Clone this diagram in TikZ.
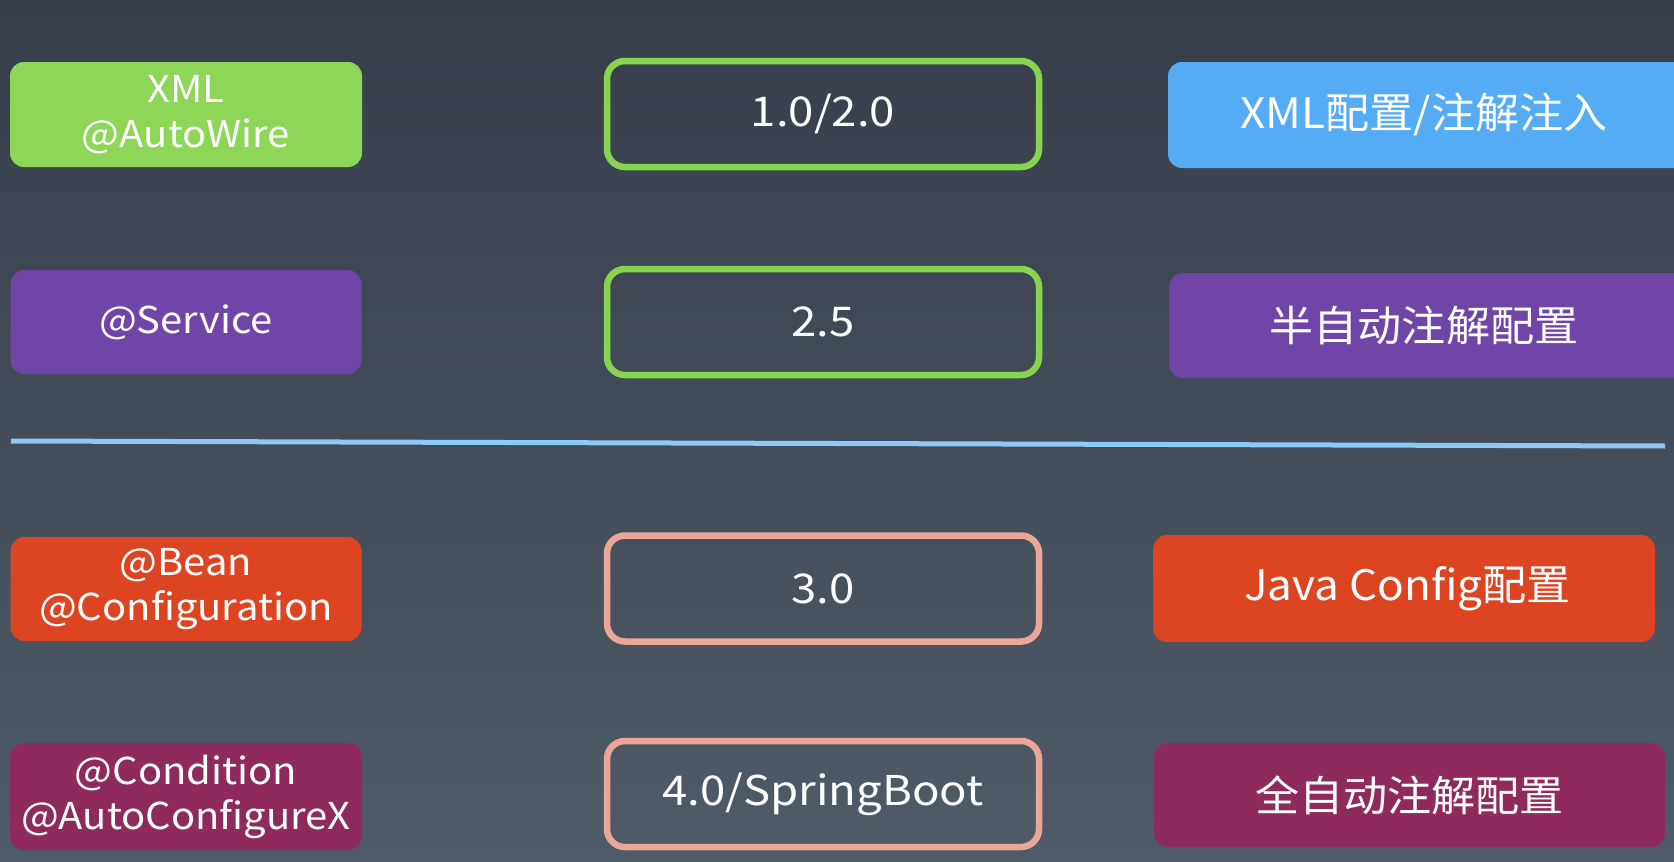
\documentclass[tikz,border=0pt]{standalone}
\usepackage{fontspec}
\setmainfont{Noto Sans CJK SC}
\newfontfamily\fontL[FakeStretch=1.08]{Noto Sans CJK SC}
\newfontfamily\fontC[FakeStretch=1.11]{Noto Sans CJK SC}
\newfontfamily\fontR[FakeStretch=1.05]{Noto Sans CJK SC}
\definecolor{bgtop}{HTML}{363E4A}
\definecolor{bgbot}{HTML}{505B68}
\definecolor{cgreen}{HTML}{8ED657}
\definecolor{cblue}{HTML}{56ABF5}
\definecolor{cpurple}{HTML}{6F45A7}
\definecolor{corange}{HTML}{DD4421}
\definecolor{cmagenta}{HTML}{8F2A5C}
\definecolor{ogreen}{HTML}{86D44F}
\definecolor{opink}{HTML}{EBA698}
\definecolor{cline}{HTML}{8CC8F8}
\tikzset{
  fillbox/.style={rounded corners=14pt, inner sep=0pt, text=white, align=center,
    font=\fontL\fontsize{37}{45}\selectfont},
  outbox/.style={draw=#1, line width=6.5pt, rounded corners=18pt, inner sep=0pt,
    minimum width=432pt, minimum height=106pt, text=white,
    font=\fontC\fontsize{41}{48}\selectfont},
  rbox/.style={rounded corners=14pt, inner sep=0pt, text=white,
    font=\fontR\fontsize{42}{48}\selectfont},
  rtext/.style={text=white, inner sep=0pt, font=\fontR\fontsize{42}{48}\selectfont},
}
\begin{document}
\begin{tikzpicture}[x=1pt,y=-1pt]
\useasboundingbox (0,0) rectangle (1674,862);
\shade[top color=bgtop, bottom color=bgbot] (0,0) rectangle (1674,862);
% left column
\node[fillbox, fill=cgreen, minimum width=352pt, minimum height=105pt] (l1) at (186,114.5) {XML\\@AutoWire};
\node[fillbox, fill=cpurple, minimum width=351pt, minimum height=104pt] (l2) at (186,322) {@Service};
\node[fillbox, fill=corange, minimum width=351pt, minimum height=104pt] (l3) at (186,589) {@Bean\\@Configuration};
\node[fillbox, fill=cmagenta, minimum width=352pt, minimum height=107pt] (l4) at (186,796.5) {@Condition\\@AutoConfigureX};
% center column
\node[outbox=ogreen] (c1) at (823,114) {1.0/2.0};
\node[outbox=ogreen] (c2) at (823,322) {2.5};
\node[outbox=opink] (c3) at (823,588.5) {3.0};
\node[outbox=opink] (c4) at (823,794) {4.0/SpringBoot};
% right column
\node[rbox, fill=cblue, minimum width=522pt, minimum height=106pt] (r1) at (1429,115) {};
\node[rtext] (t1) at (1424,115) {XML配置/注解注入};
\node[rbox, fill=cpurple, minimum width=521pt, minimum height=105pt] (r2) at (1429.5,325.5) {};
\node[rtext] (t2) at (1424,325.5) {半自动注解配置};
\node[rbox, fill=corange, minimum width=502pt, minimum height=107pt] (r3) at (1404,588.5) {};
\node[rtext] (t3) at (1407.5,588.5) {Java Config配置};
\node[rbox, fill=cmagenta, minimum width=511pt, minimum height=104pt] (r4) at (1409.5,795) {全自动注解配置};
% divider
\coordinate (d1) at (11,441);
\coordinate (d2) at (1665,446);
\draw[cline, line width=5pt] (d1) -- (d2);
\end{tikzpicture}
\end{document}
